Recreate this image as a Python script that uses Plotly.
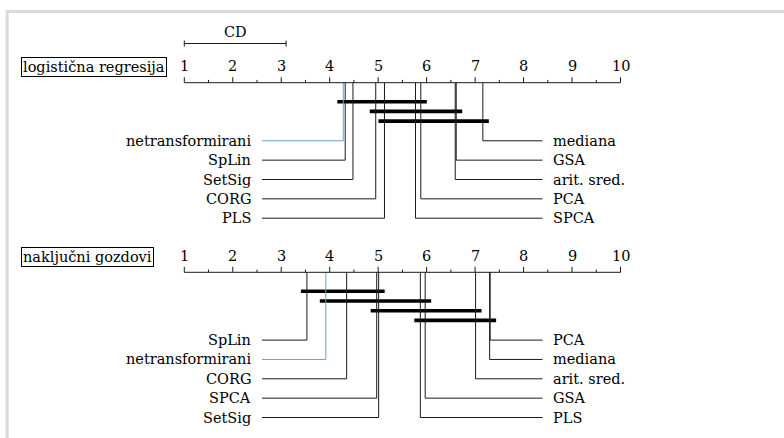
import plotly.graph_objects as go

# ---------------- data ----------------
cd_value = 2.1
tick_values = list(range(1, 11))

lr_title = "logistična regresija"
lr_methods = ["netransformirani", "SpLin", "SetSig", "CORG", "PLS",
              "SPCA", "PCA", "arit. sred.", "GSA", "mediana"]
lr_ranks = [4.28, 4.32, 4.48, 4.95, 5.13, 5.77, 5.88, 6.59, 6.61, 7.16]
lr_groups = [(0, 6), (3, 8), (4, 9)]

rf_title = "naključni gozdovi"
rf_methods = ["SpLin", "netransformirani", "CORG", "SPCA", "SetSig",
              "PLS", "GSA", "arit. sred.", "mediana", "PCA"]
rf_ranks = [3.53, 3.92, 4.35, 4.97, 5.01, 5.87, 5.97, 7.01, 7.30, 7.31]
rf_groups = [(0, 4), (1, 6), (3, 7), (5, 9)]

highlight = "netransformirani"

# ---------------- layout constants ----------------
W, H = 784, 438
X1_PX, X10_PX = 184.3, 620.5
PX_PER = (X10_PX - X1_PX) / 9.0


def px2r(px):
    return 1 + (px - X1_PX) / PX_PER


FONT = dict(family="DejaVu Serif", size=14.5, color="black")
LINE_COL = "#1a1a1a"
BLUE = "#6c9fd6"
LEFT_LINE_END = 262
RIGHT_LINE_END = 542.5
LEFT_TEXT = 252
RIGHT_TEXT = 552
BAR_EXT = 6 / PX_PER

fig = go.Figure()
shapes = []
annotations = []


def seg(x0, y0, x1, y1, color=LINE_COL, width=1):
    shapes.append(dict(type="line", xref="x", yref="y", x0=x0, y0=y0, x1=x1, y1=y1,
                       line=dict(color=color, width=width)))


def draw_panel(title, methods, ranks, groups, axis_y):
    # title box
    annotations.append(dict(xref="paper", yref="y", x=21 / W, y=axis_y - 15.5,
                            xanchor="left", yanchor="middle", text=title, showarrow=False,
                            font=FONT, bordercolor="black", borderwidth=1, borderpad=1))
    # tick numbers
    for k in tick_values:
        annotations.append(dict(xref="x", yref="y", x=k, y=axis_y - 16.5, text=str(k),
                                showarrow=False, font=FONT, xanchor="center", yanchor="middle"))
    # axis line and ticks
    seg(tick_values[0], axis_y, tick_values[-1], axis_y)
    for k in tick_values:
        seg(k, axis_y, k, axis_y - 5.5)
    for k in tick_values[:-1]:
        seg(k + 0.5, axis_y, k + 0.5, axis_y - 2.8)
    # bars (cliques)
    bar_y0 = axis_y + 19
    bar_step = 9.7
    for i, (a, b) in enumerate(groups):
        by = bar_y0 + i * bar_step
        fig.add_trace(go.Scatter(x=[ranks[a] - BAR_EXT, ranks[b] + BAR_EXT], y=[by, by],
                                 mode="lines", line=dict(color="black", width=3.6),
                                 hoverinfo="skip", showlegend=False))
    row_y0 = bar_y0 + (len(groups) - 1) * bar_step + 19.7
    row_step = 19.35
    n = len(methods)
    half = n // 2
    # left side
    for i in range(half):
        ry = row_y0 + i * row_step
        col = BLUE if methods[i] == highlight else LINE_COL
        fig.add_trace(go.Scatter(x=[ranks[i], ranks[i], px2r(LEFT_LINE_END)],
                                 y=[axis_y, ry, ry], mode="lines",
                                 line=dict(color=col, width=1), hoverinfo="skip",
                                 showlegend=False))
        annotations.append(dict(xref="paper", yref="y", x=LEFT_TEXT / W, y=ry,
                                text=methods[i], showarrow=False, font=FONT,
                                xanchor="right", yanchor="middle", borderpad=0))
    # right side
    for j, i in enumerate(range(n - 1, half - 1, -1)):
        ry = row_y0 + j * row_step
        col = BLUE if methods[i] == highlight else LINE_COL
        fig.add_trace(go.Scatter(x=[ranks[i], ranks[i], px2r(RIGHT_LINE_END)],
                                 y=[axis_y, ry, ry], mode="lines",
                                 line=dict(color=col, width=1), hoverinfo="skip",
                                 showlegend=False))
        annotations.append(dict(xref="paper", yref="y", x=RIGHT_TEXT / W, y=ry,
                                text=methods[i], showarrow=False, font=FONT,
                                xanchor="left", yanchor="middle", borderpad=0))


# CD bar
cd_y = 43.5
seg(1, cd_y, 1 + cd_value, cd_y)
seg(1, cd_y - 3, 1, cd_y + 3)
seg(1 + cd_value, cd_y - 3, 1 + cd_value, cd_y + 3)
annotations.append(dict(xref="x", yref="y", x=1 + cd_value / 2, y=31.5, text="CD",
                        showarrow=False, font=FONT, xanchor="center", yanchor="middle"))

draw_panel(lr_title, lr_methods, lr_ranks, lr_groups, 82.7)
draw_panel(rf_title, rf_methods, rf_ranks, rf_groups, 272.3)

# light grey frame (top and left)
shapes.append(dict(type="line", xref="paper", yref="y", x0=6 / W, x1=1, y0=11.5, y1=11.5,
                   line=dict(color="#d9d9d9", width=3)))
shapes.append(dict(type="line", xref="paper", yref="y", x0=7.2 / W, x1=7.2 / W, y0=10, y1=H,
                   line=dict(color="#d9d9d9", width=3)))

fig.update_layout(
    width=W, height=H,
    margin=dict(l=0, r=0, t=0, b=0),
    paper_bgcolor="white", plot_bgcolor="white",
    xaxis=dict(range=[px2r(0), px2r(W)], visible=False, fixedrange=True),
    yaxis=dict(range=[H, 0], visible=False, fixedrange=True),
    shapes=shapes, annotations=annotations, showlegend=False,
)

fig.write_html("out.html", config={"displayModeBar": False},
               post_script="document.body.style.margin='0px';document.body.style.overflow='hidden';")
